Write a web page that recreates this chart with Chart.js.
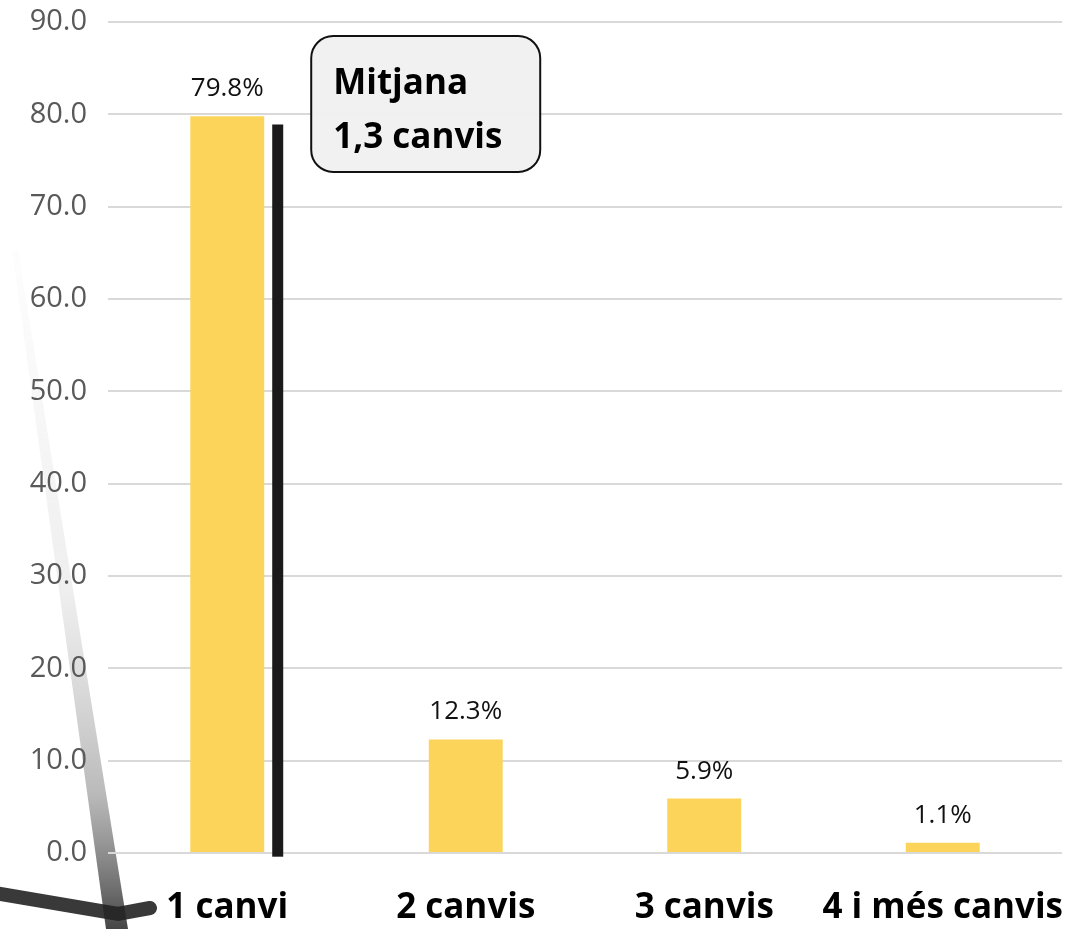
<!DOCTYPE html>
<html lang="ca">
<head>
    <meta charset="UTF-8">
    <title>Canvis</title>
    <script src="https://cdn.jsdelivr.net/npm/chart.js@4/dist/chart.umd.min.js"></script>
    <style>
        body {
            margin: 0;
            background: #ffffff;
        }
        .wrap {
            position: relative;
            width: 1068px;
            height: 929px;
        }
    </style>
</head>
<body>
    <div class="wrap">
        <canvas id="chart" width="1068" height="929"></canvas>
    </div>

    <script>
        // data
        const categories = ['1 canvi', '2 canvis', '3 canvis', '4 i més canvis'];
        const percentages = [79.8, 12.3, 5.9, 1.1];
        const yTicks = [0, 10, 20, 30, 40, 50, 60, 70, 80, 90];
        const meanLine = [-0.4, 78.9];   // black bar beside first column
        const noteLines = ['Mitjana', '1,3 canvis'];

        const FONT = "'Open Sans', 'Liberation Sans', sans-serif";

        // faint photo-like strokes behind the chart (as in the original slide)
        const backdrop = {
            id: 'backdrop',
            beforeDraw(chart) {
                const ctx = chart.ctx;
                ctx.save();
                // tapering diagonal strut
                const g = ctx.createLinearGradient(0, 250, 0, 929);
                g.addColorStop(0, 'rgba(215,215,215,0.05)');
                g.addColorStop(0.5, 'rgba(200,200,200,0.3)');
                g.addColorStop(0.8, 'rgba(140,140,140,0.6)');
                g.addColorStop(1, 'rgba(60,60,60,0.95)');
                ctx.fillStyle = g;
                ctx.beginPath();
                ctx.moveTo(12, 250);
                ctx.lineTo(18, 250);
                ctx.lineTo(128, 929);
                ctx.lineTo(106, 929);
                ctx.closePath();
                ctx.fill();
                // dark horizontal beam at the bottom
                ctx.strokeStyle = 'rgba(35,35,35,0.9)';
                ctx.lineWidth = 14;
                ctx.lineCap = 'round';
                ctx.beginPath();
                ctx.moveTo(-5, 893);
                ctx.lineTo(118, 914);
                ctx.lineTo(150, 908);
                ctx.stroke();
                ctx.restore();
            }
        };

        // value labels, mean marker and note box
        const extras = {
            id: 'extras',
            afterDatasetsDraw(chart) {
                const ctx = chart.ctx;
                const y = chart.scales.y;
                const meta = chart.getDatasetMeta(0);
                ctx.save();

                ctx.font = '26px ' + FONT;
                ctx.fillStyle = '#111';
                ctx.textAlign = 'center';
                ctx.textBaseline = 'alphabetic';
                meta.data.forEach((bar, i) => {
                    ctx.fillText(percentages[i].toFixed(1) + '%', bar.x, bar.y - 20);
                });

                // black mean bar
                const first = meta.data[0];
                const lx = first.x + first.width / 2 + 8;
                ctx.fillStyle = '#1a1a1a';
                ctx.fillRect(lx, y.getPixelForValue(meanLine[1]), 11, y.getPixelForValue(meanLine[0]) - y.getPixelForValue(meanLine[1]));

                // note box
                const bx = lx + 39, by = 36, bw = 229, bh = 136, r = 22;
                ctx.beginPath();
                ctx.roundRect(bx, by, bw, bh, r);
                ctx.fillStyle = 'rgba(240,240,240,0.96)';
                ctx.fill();
                ctx.lineWidth = 2;
                ctx.strokeStyle = '#111';
                ctx.stroke();
                ctx.fillStyle = '#000';
                ctx.font = 'bold 35px ' + FONT;
                ctx.textAlign = 'left';
                ctx.fillText(noteLines[0], bx + 22, by + 58);
                ctx.fillText(noteLines[1], bx + 22, by + 112);

                ctx.restore();
            }
        };

        new Chart(document.getElementById('chart'), {
            type: 'bar',
            data: {
                labels: categories,
                datasets: [{
                    data: percentages,
                    backgroundColor: '#FDD45A',
                    borderWidth: 0,
                    barPercentage: 0.62,
                    categoryPercentage: 0.5
                }]
            },
            options: {
                responsive: false,
                animation: false,
                layout: { padding: { top: 22, right: 6, bottom: 0, left: 0 } },
                plugins: {
                    legend: { display: false },
                    tooltip: { enabled: false }
                },
                scales: {
                    x: {
                        afterFit(scale) {
                            scale.height = 76;
                            scale.paddingLeft = 0;
                            scale.paddingRight = 0;
                        },
                        grid: { display: false, drawTicks: false },
                        border: { display: false },
                        ticks: {
                            color: '#000',
                            font: { family: FONT, size: 35, weight: 'bold' },
                            padding: 34,
                            maxRotation: 0,
                            autoSkip: false
                        }
                    },
                    y: {
                        min: 0,
                        max: 90,
                        afterBuildTicks(scale) {
                            scale.ticks = yTicks.map(v => ({ value: v }));
                        },
                        afterFit(scale) {
                            scale.width = 108;
                            scale.paddingTop = 0;
                            scale.paddingBottom = 0;
                        },
                        grid: { color: '#d9d9d9', lineWidth: 2, drawTicks: false },
                        border: { display: false },
                        ticks: {
                            color: '#595959',
                            font: { family: FONT, size: 29 },
                            padding: 21,
                            callback: v => Number(v).toFixed(1)
                        }
                    }
                }
            },
            plugins: [backdrop, extras]
        });
    </script>
</body>
</html>
